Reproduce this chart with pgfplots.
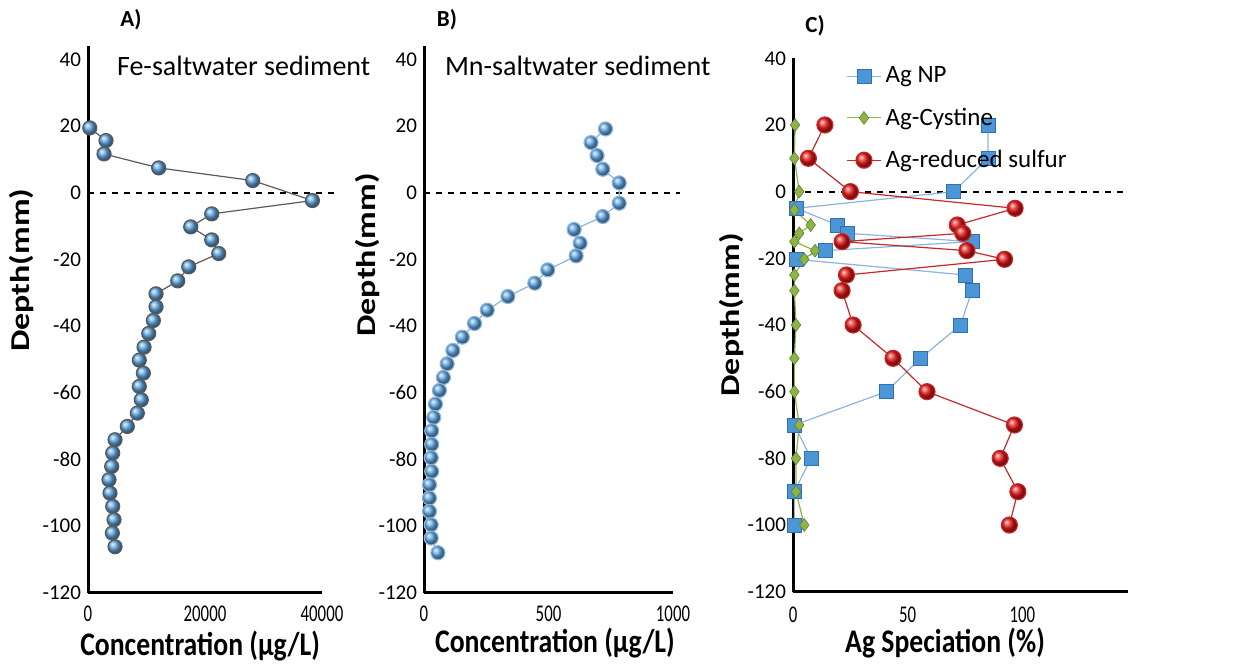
\documentclass[border=0pt]{standalone}
\usepackage{fontspec}
\setmainfont{Carlito}
\usepackage{graphicx}
\usepackage{pgfplots}
\pgfplotsset{compat=1.18}

\definecolor{ballblue}{RGB}{100,172,232}
\definecolor{lineA}{RGB}{90,90,90}
\definecolor{lineB}{RGB}{140,180,220}
\definecolor{npfill}{RGB}{75,150,215}
\definecolor{npdraw}{RGB}{50,110,180}
\definecolor{npline}{RGB}{140,180,225}
\definecolor{cysgreen}{RGB}{140,180,70}
\definecolor{sulred}{RGB}{235,25,25}
\definecolor{sulline}{RGB}{200,40,40}

\pgfplotsset{
  panel/.style={
    scale only axis,
    anchor=south west,
    axis x line=bottom,
    axis y line=left,
    axis line style={line width=1.5pt,-},
    ymin=-120, ymax=44,
    ytick={-120,-100,-80,-60,-40,-20,0,20,40},
    major tick length=0pt,
    clip=false,
    /pgf/number format/assume math mode=true,
    /pgf/number format/1000 sep={},
    scaled x ticks=false,
    yticklabel style={font=\fontsize{10.5}{12}\selectfont},
    xticklabel style={font=\fontsize{12}{13}\selectfont, yshift=-3pt},
    xticklabel={\scalebox{0.7}[1]{\pgfmathprintnumber{\tick}}},
    xlabel style={font=\bfseries\fontsize{16.5}{18}\selectfont, anchor=center},
    ylabel style={font=\bfseries\fontsize{17}{20}\selectfont, anchor=center},
  },
  zeroline/.style={black, dashed, line width=0.9pt, forget plot},
}

\begin{document}
\begin{tikzpicture}
\path[use as bounding box] (0,0) rectangle (621pt,332pt);

% ---------- A) Fe ----------
\begin{axis}[panel,
  at={(44pt,35.65pt)}, width=117pt, height=273.2pt,
  xmin=0, xmax=40000, xtick={0,20000,40000},
  xlabel={\scalebox{0.84}[1]{Concentration (µg/L)}},
  xlabel style={at={(axis description cs:0.479,-0.097)}},
  ylabel={\scalebox{1}[0.8]{Depth(mm)}},
  ylabel style={at={(axis description cs:-0.282,0.59)}},
]
\addplot[zeroline] coordinates {(0,0) (43000,0)};
\addplot[lineA, line width=0.6pt, mark=ball, mark size=3.5pt, mark options={ball color=ballblue}]
coordinates {
(300,19.5)(3080,15.7)(2740,11.7)(12090,7.5)(28160,3.7)(38360,-2.3)
(21150,-6.3)(17560,-10.2)(21150,-14.1)(22350,-18.2)(17220,-22.2)(15340,-26.4)
(11630,-30.3)(11630,-34.2)(11170,-38.3)(10380,-42.2)(9580,-46.3)(8770,-50.2)
(9460,-54.1)(8770,-58.1)(9110,-62.1)(8430,-66.1)(6720,-70.1)(4620,-74.1)
(4220,-78.1)(4050,-82.1)(3590,-86.1)(3760,-90.1)(4220,-94.1)(4450,-98.1)
(4160,-102.1)(4620,-106.2)
};
\node[anchor=west, font=\fontsize{14}{16}\selectfont] at (rel axis cs:0.094,0.965) {Fe-saltwater sediment};
\end{axis}

% ---------- B) Mn ----------
\begin{axis}[panel,
  at={(212pt,35.65pt)}, width=124.5pt, height=273.2pt,
  xmin=0, xmax=1000, xtick={0,500,1000},
  xlabel={\scalebox{0.84}[1]{Concentration (µg/L)}},
  xlabel style={at={(axis description cs:0.526,-0.092)}},
  ylabel={\scalebox{1}[0.8]{Depth(mm)}},
  ylabel style={at={(axis description cs:-0.225,0.618)}},
]
\addplot[zeroline] coordinates {(0,0) (1030,0)};
\addplot[lineB, line width=0.6pt, mark=ball, mark size=3.5pt, mark options={ball color=ballblue}]
coordinates {
(729,19.2)(671,15.1)(695,11.2)(718,7.1)(784,3.0)(784,-3.1)(718,-7.1)(603,-11.0)
(627,-15.1)(611,-18.9)(497,-23.1)(445,-27.1)(337,-31.1)(254,-35.2)(203,-39.2)
(154,-43.3)(116,-47.3)(93,-51.3)(78,-55.4)(62,-59.3)(46,-63.4)(39,-67.4)
(31,-71.4)(31,-75.5)(29,-79.5)(31,-83.6)(22,-87.6)(22,-91.6)(22,-95.6)
(29,-99.6)(29,-103.6)(56,-108.0)
};
\node[anchor=west, font=\fontsize{14}{16}\selectfont] at (rel axis cs:0.056,0.965) {Mn-saltwater sediment};
\end{axis}

% ---------- C) Ag speciation ----------
\begin{axis}[panel,
  at={(396.5pt,36.15pt)}, width=167.5pt, height=266.7pt,
  ymax=40,
  xmin=0, xmax=146, xtick={0,50,100},
  xlabel={\scalebox{0.84}[1]{Ag Speciation (\%)}},
  xlabel style={at={(axis description cs:0.454,-0.097)}},
  ylabel={\scalebox{1}[0.8]{Depth(mm)}},
  ylabel style={at={(axis description cs:-0.182,0.519)}},
  xticklabel style={yshift=-1pt},
  legend cell align=left,
  legend style={at={(rel axis cs:0.14,1.0)}, anchor=north west, draw=none, fill=none,
    font=\fontsize{12.5}{14}\selectfont, row sep=7pt},
]
\addplot[zeroline] coordinates {(0,0) (146,0)};
\addplot[npline, line width=0.6pt, mark=square*, mark size=3.5pt,
  mark options={fill=npfill, draw=npdraw, line width=0.4pt}]
coordinates {
(85,20)(85,10)(70,0)(1.5,-5)(19.3,-10)(23.6,-12.5)(78,-15)(14,-17.7)(1.3,-20.3)
(75,-25)(78,-29.7)(73,-40)(55.5,-50)(40.7,-60)(0.6,-70)(7.8,-80)(0.6,-90)(0.6,-100)
};
\addlegendentry{Ag NP}
\addplot[cysgreen, line width=0.6pt, mark=diamond*, mark size=3.2pt,
  mark options={fill=cysgreen, draw=cysgreen!70!black, line width=0.3pt}]
coordinates {
(0.9,20)(0.6,10)(2.7,0)(0.6,-5.5)(7.7,-10)(2.7,-12.5)(0.6,-15)(9.6,-17.7)(4.9,-20.3)
(0.6,-25)(0.6,-29.7)(1.3,-40)(0.6,-50)(0.6,-60)(2.7,-70)(1.3,-80)(1.3,-90)(4.9,-100)
};
\addlegendentry{Ag-Cystine}
\addplot[sulline, line width=0.6pt, mark=ball, mark size=4pt, mark options={ball color=sulred}]
coordinates {
(13.9,20)(6.7,10)(25,0)(96.8,-5)(71.6,-10)(74,-12.5)(21.4,-15)(75.8,-17.7)(92.2,-20.3)
(23.3,-25)(21.4,-29.7)(26.2,-40)(43.6,-50)(58.4,-60)(96.5,-70)(90.3,-80)(98,-90)(94.3,-100)
};
\addlegendentry{Ag-reduced sulfur}
\end{axis}

% panel letters
\node[font=\bfseries\fontsize{11.5}{13}\selectfont] at (65.5pt,322pt) {A)};
\node[font=\bfseries\fontsize{11.5}{13}\selectfont] at (223.5pt,322pt) {B)};
\node[font=\bfseries\fontsize{11.5}{13}\selectfont] at (407.5pt,319pt) {C)};
\end{tikzpicture}
\end{document}
